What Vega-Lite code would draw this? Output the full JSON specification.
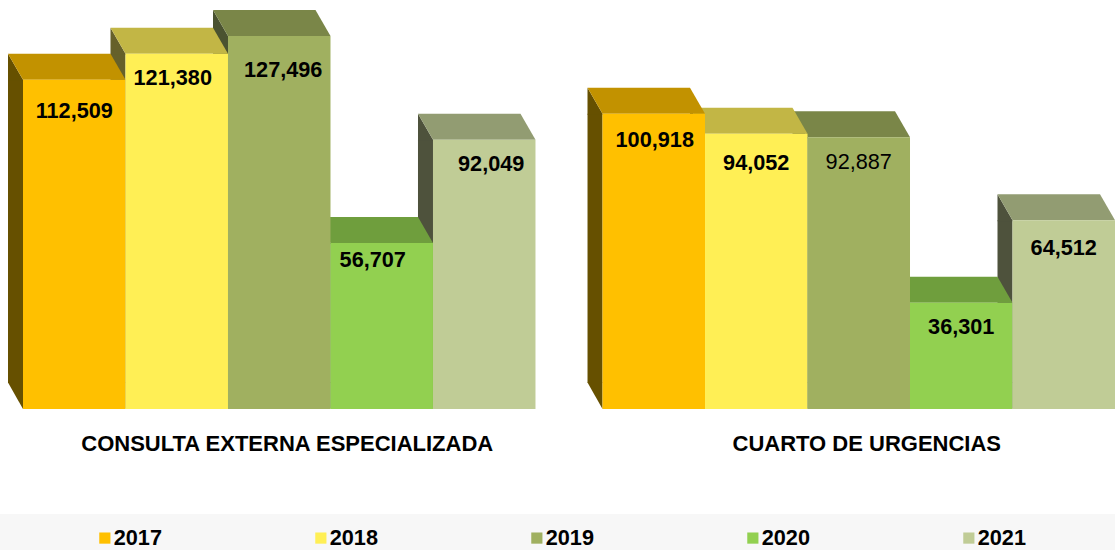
{
"$schema":"https://vega.github.io/schema/vega-lite/v6.json",
"autosize":{"type":"none"},
"padding":{"left":23,"top":0,"right":0,"bottom":141},
"width":1092,"height":409,
"background":"white",
"config":{"view":{"stroke":null},"text":{"font":"Liberation Sans","fontWeight":"bold","fontSize":21.7,"color":"#000000","baseline":"middle"}},
"data":{"values":[
{"group":"CONSULTA EXTERNA ESPECIALIZADA","year":"2017","value":112509},
{"group":"CONSULTA EXTERNA ESPECIALIZADA","year":"2018","value":121380},
{"group":"CONSULTA EXTERNA ESPECIALIZADA","year":"2019","value":127496},
{"group":"CONSULTA EXTERNA ESPECIALIZADA","year":"2020","value":56707},
{"group":"CONSULTA EXTERNA ESPECIALIZADA","year":"2021","value":92049},
{"group":"CUARTO DE URGENCIAS","year":"2017","value":100918},
{"group":"CUARTO DE URGENCIAS","year":"2018","value":94052},
{"group":"CUARTO DE URGENCIAS","year":"2019","value":92887},
{"group":"CUARTO DE URGENCIAS","year":"2020","value":36301},
{"group":"CUARTO DE URGENCIAS","year":"2021","value":64512}
]},
"transform":[
{"calculate":"toNumber(datum.year)-2017+(datum.group==='CUARTO DE URGENCIAS'?5.654:0)","as":"x0"},
{"calculate":"datum.x0+1","as":"x1"},
{"calculate":"datum.x0+0.5","as":"mid"}
],
"resolve":{"scale":{"color":"independent"}},
"layer":[
{"mark":{"type":"rect","color":"#F7F7F7"},
 "encoding":{
  "x":{"datum":-0.2244,"type":"quantitative","scale":{"domain":[0,10.654],"nice":false,"zero":false},"axis":null},
  "x2":{"datum":10.654},
  "y":{"datum":-35885,"type":"quantitative","scale":{"domain":[0,139780],"nice":false,"zero":false},"axis":null},
  "y2":{"datum":-48188}
 }},
{"mark":{"type":"rect","xOffset":-15,"y2Offset":-26},
 "encoding":{
  "x":{"field":"x0","type":"quantitative"},
  "x2":{"field":"x0"},
  "y":{"field":"value","type":"quantitative"},
  "y2":{"datum":0},
  "color":{"field":"year","type":"nominal","legend":null,"scale":{"domain":["2017","2018","2019","2020","2021"],"range":["#665000","#66602A","#4A5230","#3D5A22","#4E523C"]}}
 }},
{"mark":{"type":"point","filled":true,"size":4,"opacity":1,"shape":"M-66.25 -26L-51.25 0L-51.25 1L-66.25 1Z"},
 "encoding":{
  "x":{"field":"mid","type":"quantitative"},
  "y":{"field":"value","type":"quantitative"},
  "color":{"field":"year","type":"nominal","legend":null,"scale":{"domain":["2017","2018","2019","2020","2021"],"range":["#665000","#66602A","#4A5230","#3D5A22","#4E523C"]}}
 }},
{"mark":{"type":"point","filled":true,"size":4,"opacity":1,"shape":"M-66.25 -26.5L-51.25 -26.5L-51.25 0Z"},
 "encoding":{
  "x":{"field":"mid","type":"quantitative"},
  "y":{"datum":0,"type":"quantitative"},
  "color":{"field":"year","type":"nominal","legend":null,"scale":{"domain":["2017","2018","2019","2020","2021"],"range":["#665000","#66602A","#4A5230","#3D5A22","#4E523C"]}}
 }},
{"mark":{"type":"point","filled":true,"size":4,"opacity":1,"shape":"M-51.25 0L51.25 0L36.25 -26L-66.25 -26Z"},
 "encoding":{
  "x":{"field":"mid","type":"quantitative"},
  "y":{"field":"value","type":"quantitative"},
  "order":{"field":"year","sort":"descending"},
  "color":{"field":"year","type":"nominal","legend":null,"scale":{"domain":["2017","2018","2019","2020","2021"],"range":["#C29200","#C2B645","#7A8648","#6F9E3D","#929C72"]}}
 }},
{"mark":{"type":"rect"},
 "encoding":{
  "x":{"field":"x0","type":"quantitative"},
  "x2":{"field":"x1"},
  "y":{"field":"value","type":"quantitative"},
  "y2":{"datum":0},
  "color":{"field":"year","type":"nominal","scale":{"domain":["2017","2018","2019","2020","2021"],"range":["#FFC000","#FFEF55","#A0B060","#92D050","#C0CC96"]},
   "legend":{"title":null,"orient":"none","legendX":71,"legendY":527,"direction":"horizontal","columns":5,"columnPadding":148,"padding":0,"symbolType":"square","symbolSize":125,"symbolStrokeWidth":0,"labelFont":"Liberation Sans","labelFontWeight":"bold","labelFontSize":21.7,"labelColor":"#000000","labelOffset":-2}}
 }},
{"transform":[{"filter":"datum.value===112509"}],"mark":{"type":"text","dx":0,"dy":31},"encoding":{"x":{"field":"mid","type":"quantitative"},"y":{"field":"value","type":"quantitative"},"text":{"field":"value","format":","}}},
{"transform":[{"filter":"datum.value===121380"}],"mark":{"type":"text","dx":-4,"dy":24},"encoding":{"x":{"field":"mid","type":"quantitative"},"y":{"field":"value","type":"quantitative"},"text":{"field":"value","format":","}}},
{"transform":[{"filter":"datum.value===127496"}],"mark":{"type":"text","dx":4,"dy":34},"encoding":{"x":{"field":"mid","type":"quantitative"},"y":{"field":"value","type":"quantitative"},"text":{"field":"value","format":","}}},
{"transform":[{"filter":"datum.value===56707"}],"mark":{"type":"text","dx":-9,"dy":17},"encoding":{"x":{"field":"mid","type":"quantitative"},"y":{"field":"value","type":"quantitative"},"text":{"field":"value","format":","}}},
{"transform":[{"filter":"datum.value===92049"}],"mark":{"type":"text","dx":7,"dy":24},"encoding":{"x":{"field":"mid","type":"quantitative"},"y":{"field":"value","type":"quantitative"},"text":{"field":"value","format":","}}},
{"transform":[{"filter":"datum.value===100918"}],"mark":{"type":"text","dx":1,"dy":26},"encoding":{"x":{"field":"mid","type":"quantitative"},"y":{"field":"value","type":"quantitative"},"text":{"field":"value","format":","}}},
{"transform":[{"filter":"datum.value===94052"}],"mark":{"type":"text","dy":29},"encoding":{"x":{"field":"mid","type":"quantitative"},"y":{"field":"value","type":"quantitative"},"text":{"field":"value","format":","}}},
{"transform":[{"filter":"datum.value===92887"}],"mark":{"type":"text","dy":25,"fontWeight":"normal"},"encoding":{"x":{"field":"mid","type":"quantitative"},"y":{"field":"value","type":"quantitative"},"text":{"field":"value","format":","}}},
{"transform":[{"filter":"datum.value===36301"}],"mark":{"type":"text","dy":24},"encoding":{"x":{"field":"mid","type":"quantitative"},"y":{"field":"value","type":"quantitative"},"text":{"field":"value","format":","}}},
{"transform":[{"filter":"datum.value===64512"}],"mark":{"type":"text","dy":28},"encoding":{"x":{"field":"mid","type":"quantitative"},"y":{"field":"value","type":"quantitative"},"text":{"field":"value","format":","}}},
{"transform":[{"aggregate":[{"op":"mean","field":"mid","as":"center"}],"groupby":["group"]}],
 "mark":{"type":"text","dx":8,"dy":35,"fontSize":22},
 "encoding":{"x":{"field":"center","type":"quantitative"},"y":{"datum":0,"type":"quantitative"},"text":{"field":"group"}}}
]
}
